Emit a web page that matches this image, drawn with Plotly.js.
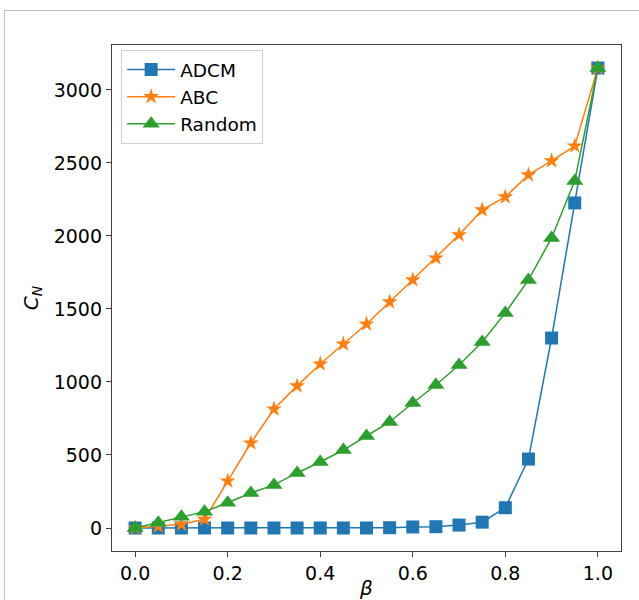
<!DOCTYPE html>
<html>
<head>
<meta charset="utf-8">
<script src="https://cdn.plot.ly/plotly-3.0.1.min.js"></script>
<style>
  html, body { margin: 0; padding: 0; background: #ffffff; }
  #frame { position: absolute; left: 4px; top: 10px; width: 700px; height: 700px;
           border-left: 1px solid #bdbdbd; border-top: 1px solid #bdbdbd; pointer-events: none; }
  #chart { position: absolute; left: 0; top: 0; width: 639px; height: 600px; }
</style>
</head>
<body>
<div id="frame"></div>
<div id="chart"></div>
<script>
const beta = [0.0, 0.05, 0.1, 0.15, 0.2, 0.25, 0.3, 0.35, 0.4, 0.45, 0.5,
              0.55, 0.6, 0.65, 0.7, 0.75, 0.8, 0.85, 0.9, 0.95, 1.0];
const adcm = [0, 0, 0, 0, 0, 0, 0, 0, 0, 0, 0,
              2, 7, 9, 20, 40, 139, 472, 1301, 2226, 3150];
const abc = [0, 12, 25, 60, 322, 582, 815, 973, 1123, 1260, 1397,
             1548, 1699, 1849, 2007, 2178, 2267, 2418, 2514, 2616, 3150];
const randomSeries = [0, 36, 77, 112, 173, 240, 295, 377, 452, 534, 630,
                      726, 856, 979, 1116, 1274, 1473, 1699, 1986, 2377, 3150];
const seriesNames = ["ADCM", "ABC", "Random"];
const xTicks = [0.0, 0.2, 0.4, 0.6, 0.8, 1.0];
const yTicks = [0, 500, 1000, 1500, 2000, 2500, 3000];

const FONT = "DejaVu Sans, sans-serif";

const traces = [
  { x: beta, y: adcm, name: seriesNames[0], type: "scatter", mode: "lines+markers",
    line: { color: "#1f77b4", width: 1.5 },
    marker: { symbol: "square", size: 13, color: "#1f77b4" } },
  { x: beta, y: abc, name: seriesNames[1], type: "scatter", mode: "lines+markers",
    line: { color: "#ff7f0e", width: 1.5 },
    marker: { symbol: "star", size: 12, color: "#ff7f0e" } },
  { x: beta, y: randomSeries, name: seriesNames[2], type: "scatter", mode: "lines+markers",
    line: { color: "#2ca02c", width: 1.5 },
    marker: { symbol: "triangle-up", size: 15, color: "#2ca02c" } }
];

const layout = {
  width: 639, height: 600,
  margin: { l: 112, r: 18, t: 45, b: 49, pad: 0 },
  paper_bgcolor: "rgba(0,0,0,0)",
  plot_bgcolor: "#ffffff",
  font: { family: FONT, size: 18.5, color: "#000000" },
  showlegend: true,
  legend: {
    x: 0.018, y: 0.99, xanchor: "left", yanchor: "top",
    bgcolor: "#ffffff", bordercolor: "#d0d0d0", borderwidth: 1,
    font: { family: FONT, size: 18.5, color: "#000000" },
    itemsizing: "trace", itemwidth: 48, tracegroupgap: 0
  },
  xaxis: {
    range: [-0.05, 1.05], tickvals: xTicks, ticktext: xTicks.map(v => v.toFixed(1)),
    showgrid: false, zeroline: false,
    showline: true, linecolor: "#404040", linewidth: 1.2, mirror: true,
    ticks: "outside", ticklen: 5, tickwidth: 1, tickcolor: "#404040",
    tickfont: { family: FONT, size: 19, color: "#000000" },
    title: { text: "<i>β</i>", font: { family: FONT, size: 20, color: "#000000" }, standoff: 4 }
  },
  yaxis: {
    range: [-157.5, 3307.5], tickvals: yTicks, ticktext: yTicks.map(String),
    showgrid: false, zeroline: false,
    showline: true, linecolor: "#404040", linewidth: 1.2, mirror: true,
    ticks: "outside", ticklen: 5, tickwidth: 1, tickcolor: "#404040",
    tickfont: { family: FONT, size: 19, color: "#000000" },
    title: { text: "<i>C</i><sub><i>N</i></sub>", font: { family: FONT, size: 20, color: "#000000" }, standoff: 9 }
  }
};

Plotly.newPlot("chart", traces, layout, { displayModeBar: false, staticPlot: true });
</script>
</body>
</html>
